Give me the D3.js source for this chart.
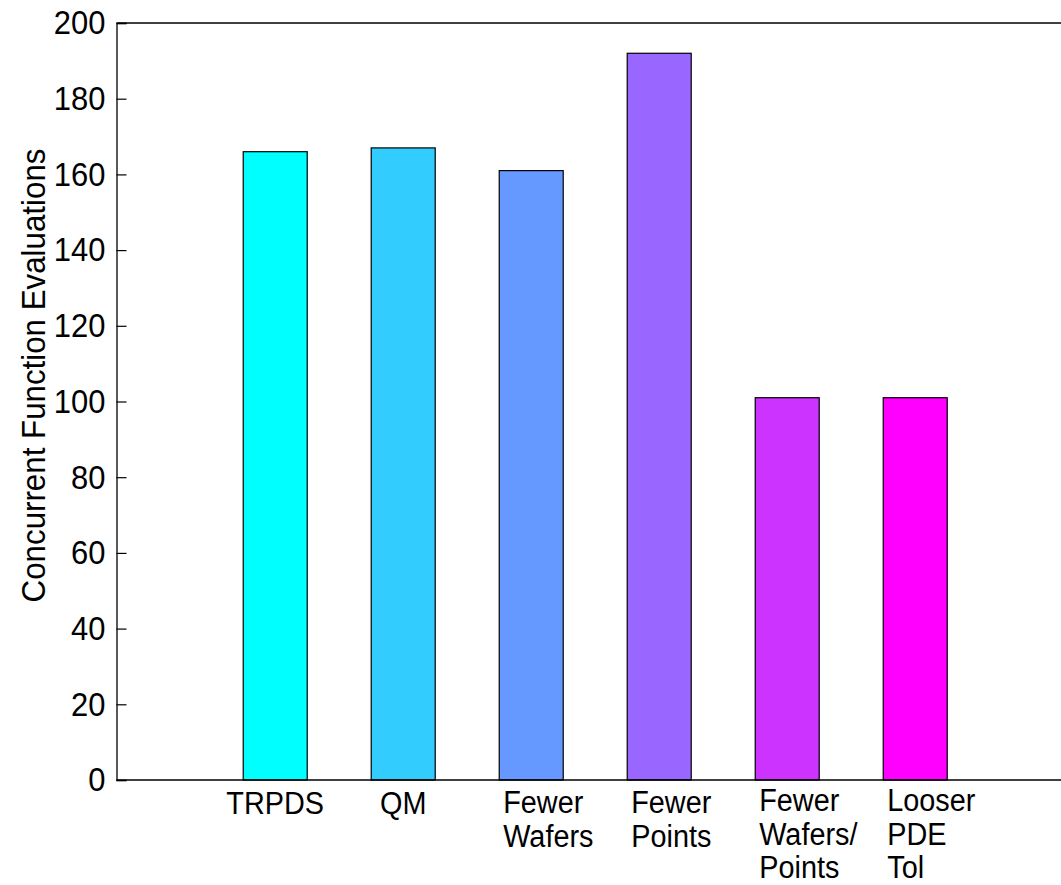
<!DOCTYPE html>
<html>
<head>
<meta charset="utf-8">
<script src="https://cdn.jsdelivr.net/npm/d3@7"></script>
<style>
  html, body { margin: 0; padding: 0; background: #fff; }
  svg { display: block; font-family: "Liberation Sans", Arial, Helvetica, sans-serif; }
</style>
</head>
<body>
<svg id="chart" width="1061" height="885"></svg>
<script>
// ---- data ----
const categories = [
  ["TRPDS"],
  ["QM"],
  ["Fewer", "Wafers"],
  ["Fewer", "Points"],
  ["Fewer", "Wafers/", "Points"],
  ["Looser", "PDE", "Tol"]
];
const values = [166, 167, 161, 192, 101, 101];
const colors = ["#00FFFF", "#33CCFF", "#6699FF", "#9966FF", "#CC33FF", "#FF00FF"];
const yTicks = [0, 20, 40, 60, 80, 100, 120, 140, 160, 180, 200];
const yLabel = "Concurrent Function Evaluations";

// ---- layout ----
const W = 1061, H = 885;
const mLeft = 116.5, mTop = 23, mBottom = 780;
const svg = d3.select("#chart");

const x = d3.scaleLinear().domain([-0.24, 7.24]).range([mLeft, mLeft + 7.48 * 128]);
const y = d3.scaleLinear().domain([0, 200]).range([mBottom, mTop]);
const barW = (x(1) - x(0)) * 0.5;

// horizontally condense glyphs (reference text is slightly narrow)
function squeeze(node, k) {
  const L = node.getComputedTextLength();
  node.setAttribute("textLength", L * k);
  node.setAttribute("lengthAdjust", "spacingAndGlyphs");
}

// bars
svg.append("g").selectAll("rect")
  .data(values)
  .join("rect")
  .attr("x", (d, i) => x(i + 1) - barW / 2)
  .attr("y", d => y(d))
  .attr("width", barW)
  .attr("height", d => y(0) - y(d))
  .attr("fill", (d, i) => colors[i])
  .attr("stroke", "#000")
  .attr("stroke-width", 1.2);

// box lines (top and bottom)
svg.append("line").attr("x1", mLeft).attr("x2", W).attr("y1", mTop).attr("y2", mTop)
  .attr("stroke", "#000").attr("stroke-width", 1.3);
svg.append("line").attr("x1", mLeft).attr("x2", W).attr("y1", mBottom).attr("y2", mBottom)
  .attr("stroke", "#000").attr("stroke-width", 1.3);

// y axis
const yAxis = d3.axisLeft(y).tickValues(yTicks).tickSize(-10).tickPadding(11).tickFormat(d3.format("d"));
const gy = svg.append("g").attr("transform", `translate(${mLeft},0)`).call(yAxis);
gy.select(".domain").attr("stroke", "#000").attr("stroke-width", 1.3);
gy.selectAll(".tick line").attr("stroke", "#000").attr("stroke-width", 1.2);
gy.selectAll(".tick text").attr("font-size", 34).attr("fill", "#000")
  .attr("font-family", "'Liberation Sans', Arial, sans-serif")
  .each(function () { squeeze(this, 0.91); });

// y label
svg.append("text")
  .attr("transform", `translate(45, ${(mTop + mBottom) / 2 - 26}) rotate(-90)`)
  .attr("text-anchor", "middle")
  .attr("font-size", 34)
  .attr("fill", "#000")
  .text(yLabel)
  .each(function () { squeeze(this, 0.92); });

// x category labels
const lineStep = 33.5, firstBase = 814;
const gx = svg.append("g");
categories.forEach((lines, i) => {
  const cx = x(i + 1);
  const t = gx.append("text").attr("font-size", 31).attr("fill", "#000");
  if (lines.length === 1) {
    t.attr("text-anchor", "middle").attr("x", cx).attr("y", firstBase).text(lines[0]);
    squeeze(t.node(), 0.93);
  } else {
    const base = lines.length > 2 ? firstBase - 3 : firstBase - 1;
    lines.forEach((ln, j) => {
      const sp = t.append("tspan").attr("x", cx - 28).attr("y", base + j * lineStep).text(ln);
      squeeze(sp.node(), 0.93);
    });
  }
});
</script>
</body>
</html>
